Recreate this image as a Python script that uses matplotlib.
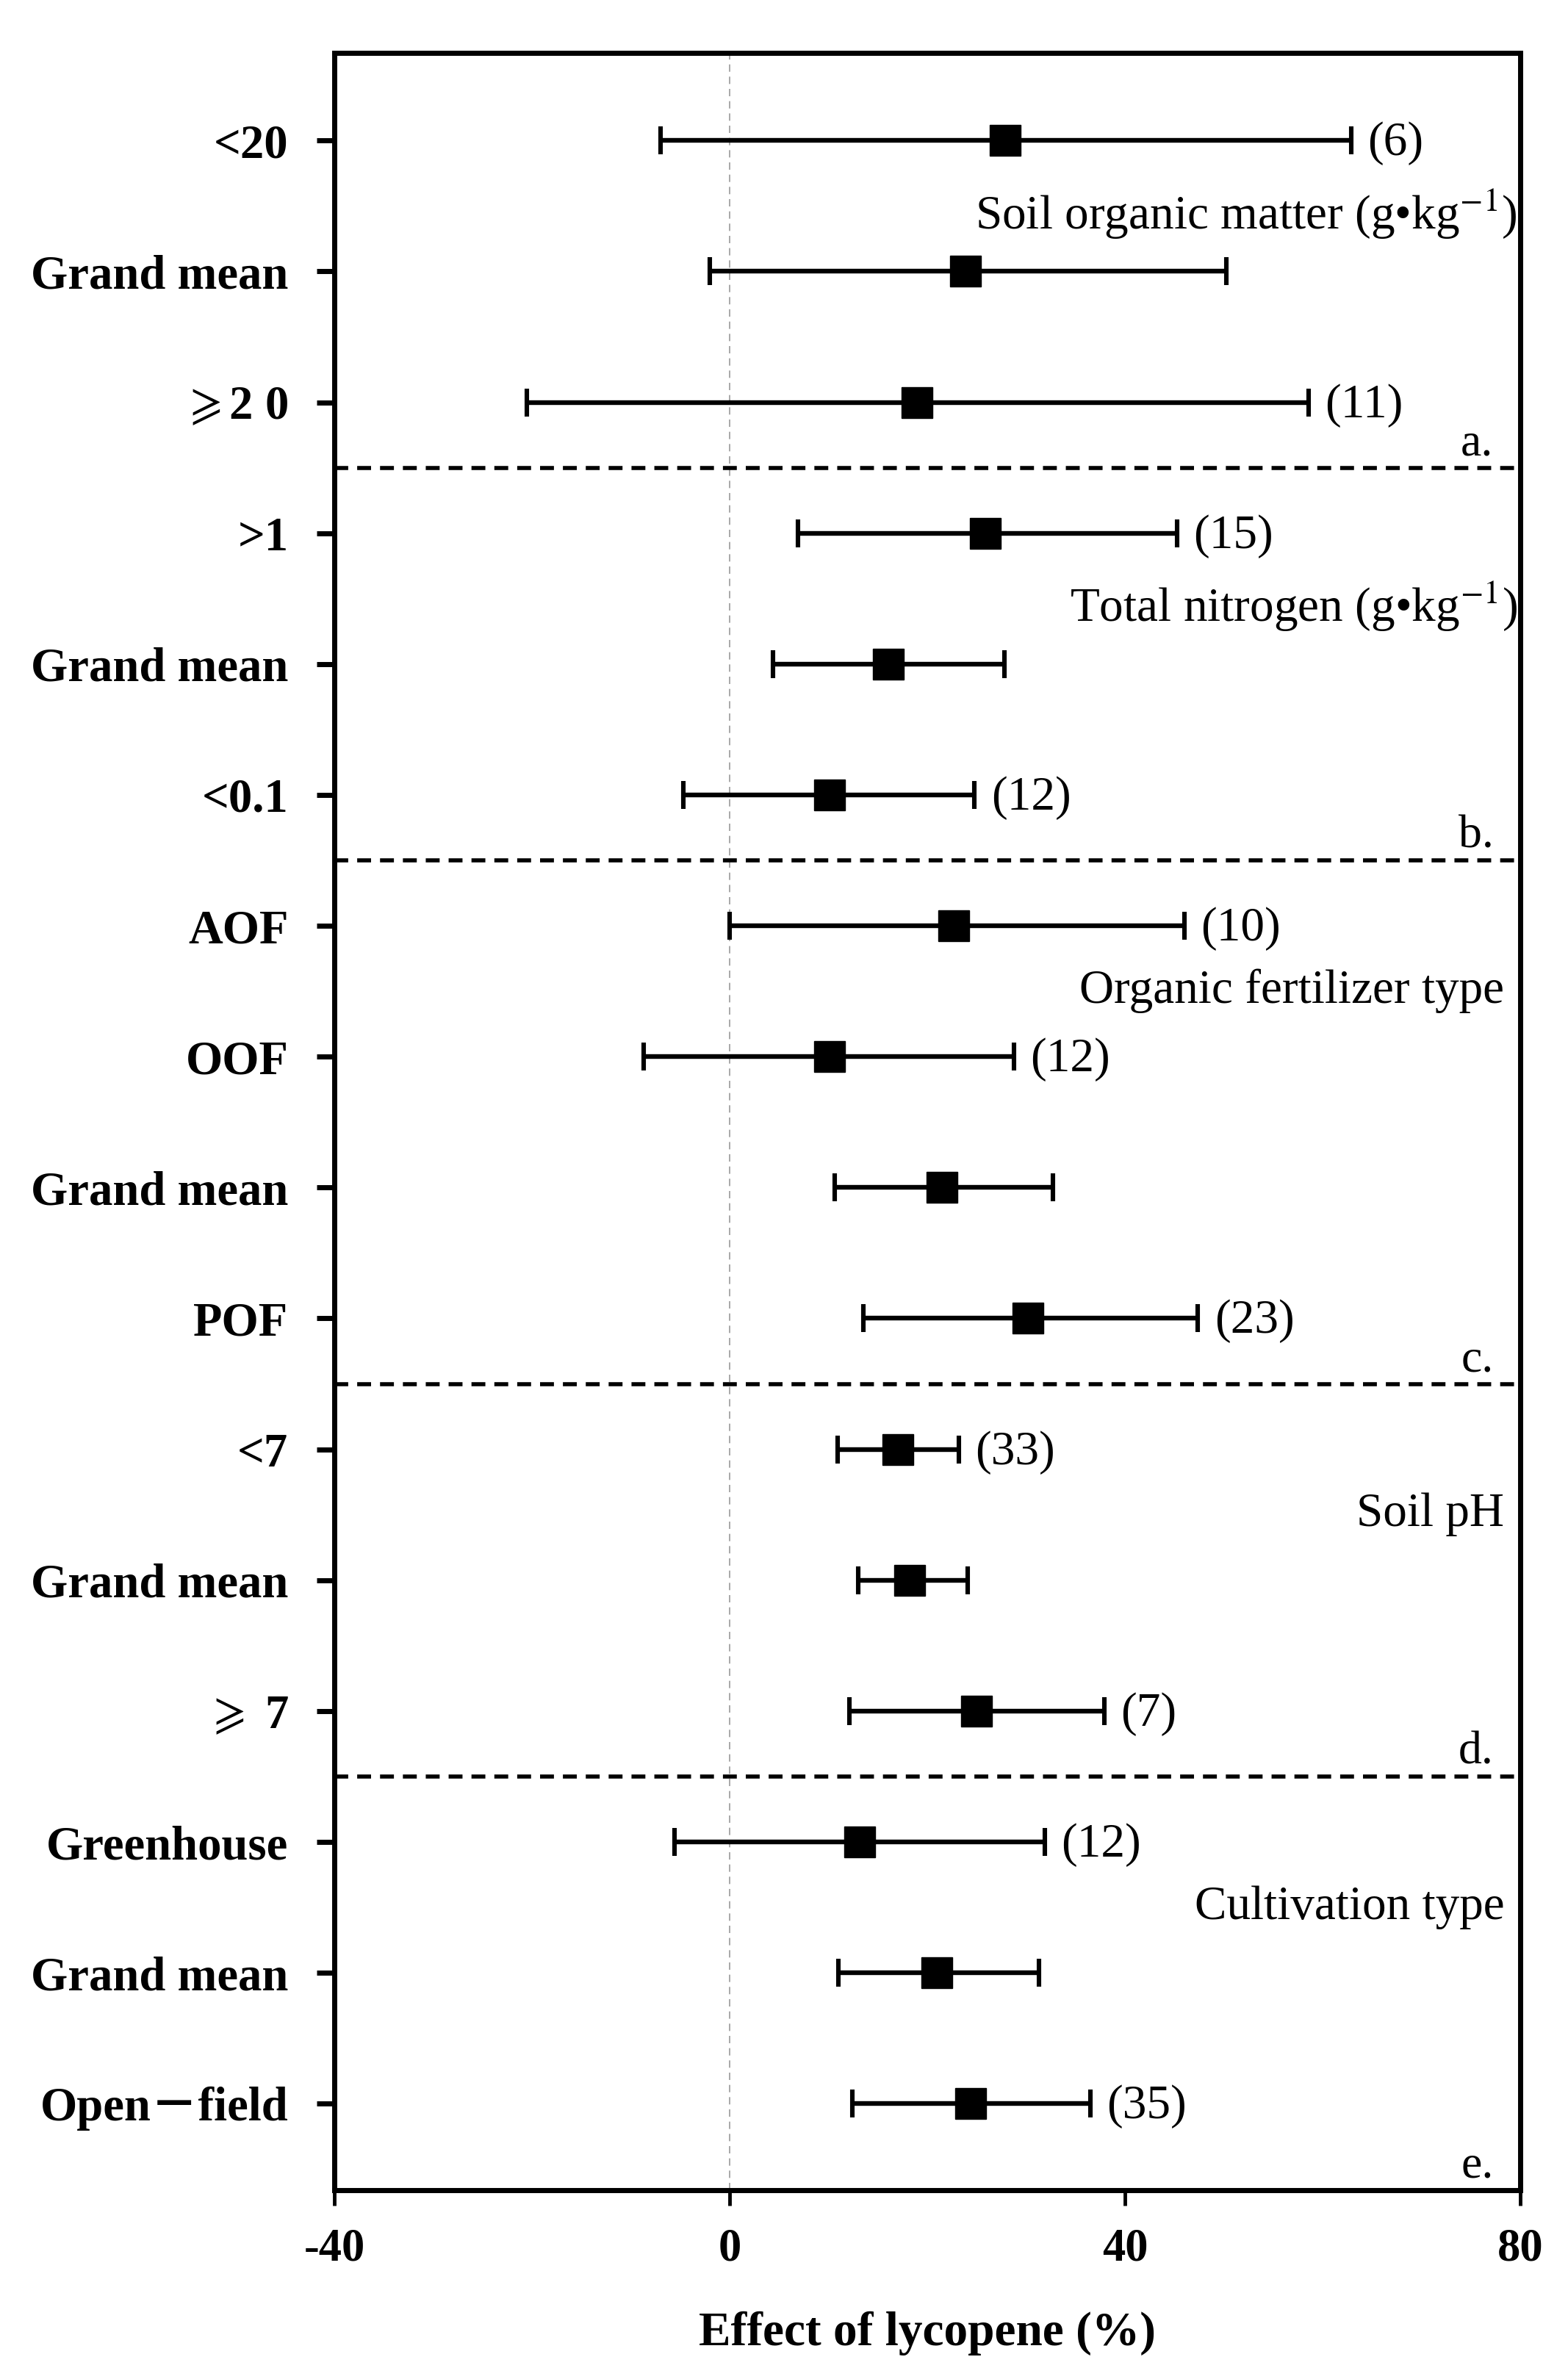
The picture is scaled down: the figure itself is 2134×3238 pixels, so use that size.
import matplotlib
matplotlib.use('Agg')
import matplotlib.pyplot as plt

############################################################
# Datos
############################################################

etiquetas = [
    '<20', 'Grand mean', r'$\geqslant$2 0',
    '>1', 'Grand mean', '<0.1',
    'AOF', 'OOF', 'Grand mean', 'POF',
    '<7', 'Grand mean', r'$\geqslant$ 7',
    'Greenhouse', 'Grand mean', 'Open\uff0dfield',
]

media = [
    27.9, 23.9, 19.0,
    25.9, 16.1, 10.1,
    22.7, 10.1, 21.5, 30.2,
    17.0, 18.2, 25.0,
    13.2, 21.0, 24.4,
]

inferior = [
    -7.0, -2.0, -20.5,
    6.9, 4.4, -4.7,
    0.0, -8.7, 10.6, 13.5,
    10.9, 13.0, 12.1,
    -5.6, 11.0, 12.4,
]

superior = [
    62.9, 50.3, 58.6,
    45.3, 27.8, 24.8,
    46.0, 28.8, 32.7, 47.4,
    23.2, 24.1, 37.9,
    31.9, 31.3, 36.5,
]

n_estudios = [
    '(6)', '', '(11)',
    '(15)', '', '(12)',
    '(10)', '(12)', '', '(23)',
    '(33)', '', '(7)',
    '(12)', '', '(35)',
]

grupos = [
    'Soil organic matter (g\u2022kg$^{-1}$)',
    'Total nitrogen (g\u2022kg$^{-1}$)',
    'Organic fertilizer type',
    'Soil pH',
    'Cultivation type',
]

# filas donde empieza cada grupo
inicio_grupo = [0, 3, 6, 10, 13]
letras = ['a.', 'b.', 'c.', 'd.', 'e.']

x_ticks = [-40, 0, 40, 80]

############################################################
# Estilo
############################################################

plt.rcParams['font.family'] = ['Liberation Serif', 'DejaVu Sans', 'Noto Sans CJK SC']
plt.rcParams['mathtext.fontset'] = 'stix'

fig = plt.figure(figsize=(21.34, 32.38), dpi=100)
ax = fig.add_axes([0.2132, 0.0794, 0.7563, 0.8984])

filas = list(range(len(etiquetas)))
y_abajo = len(etiquetas) - 0.34

############################################################
# Barras de error
############################################################

err_izq = [m - lo for m, lo in zip(media, inferior)]
err_der = [hi - m for m, hi in zip(media, superior)]

ax.axvline(0, color='#999999', lw=1.2, ls=(0, (6, 4)), zorder=0)

ax.errorbar(
    media,
    filas,
    xerr=[err_izq, err_der],
    fmt='s',
    color='black',
    markersize=30,
    elinewidth=4.6,
    capsize=14,
    capthick=4.4,
    zorder=3
)

for y, hi, txt in zip(filas, superior, n_estudios):
    if txt:
        ax.annotate(
            txt,
            (hi, y),
            xytext=(16, -3),
            textcoords='offset points',
            ha='left',
            va='center',
            fontsize=47
        )

############################################################
# Separadores y textos de grupo
############################################################

fin_grupo = inicio_grupo[1:] + [len(etiquetas)]

for k in range(len(grupos)):

    a = inicio_grupo[k]
    b = fin_grupo[k]

    if k < len(grupos) - 1:
        ax.axhline(b - 0.5, color='black', lw=4, ls=(0, (3.4, 2.2)))
        y_letra = b - 0.5 - 0.02
    else:
        y_letra = y_abajo - 0.02

    if k < 2:
        y_titulo = a + 0.56
        x_titulo = 79.7
    else:
        y_titulo = a + 0.5
        x_titulo = 78.4

    ax.text(
        x_titulo, y_titulo, grupos[k],
        ha='right', va='center', fontsize=47
    )

    ax.text(
        77.3, y_letra, letras[k],
        ha='right', va='bottom', fontsize=46
    )

############################################################
# Ejes
############################################################

ax.set_xlim(-40, 80)
ax.set_ylim(y_abajo, -0.67)

ax.set_xticks(x_ticks)
ax.set_xticklabels([str(v) for v in x_ticks], fontsize=45, fontweight='bold')

ax.set_yticks(filas)
ax.set_yticklabels(etiquetas, fontsize=46.5, fontweight='bold')

ax.tick_params(axis='y', length=17, width=5, pad=28, direction='out')
ax.tick_params(axis='x', length=15, width=3.5, pad=22, direction='out')

ax.set_xlabel('Effect of lycopene (%)', fontsize=47, fontweight='bold', labelpad=40)

for lado in ['left', 'right', 'top', 'bottom']:
    ax.spines[lado].set_linewidth(5)

fig.savefig('out.png', dpi=100)
